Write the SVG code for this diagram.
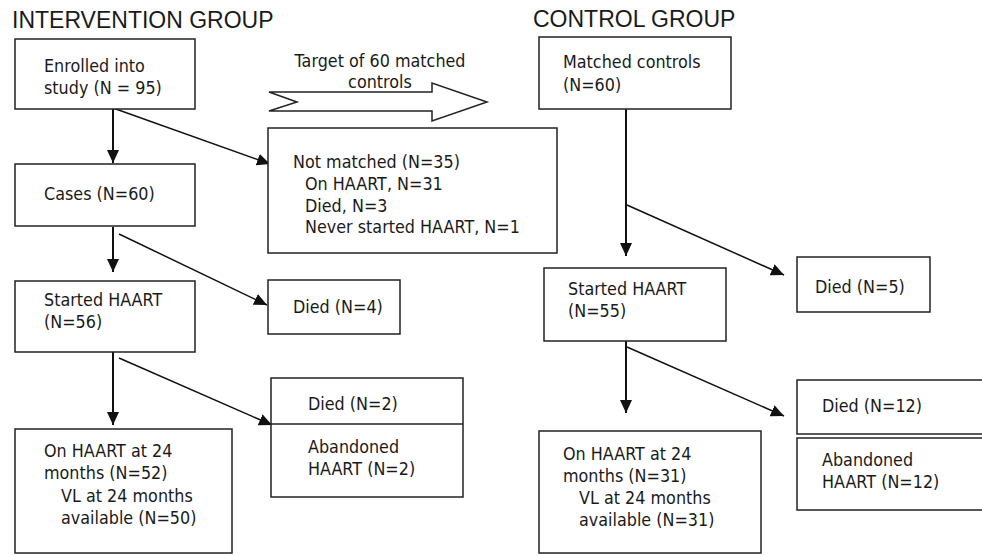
<svg xmlns="http://www.w3.org/2000/svg" width="982" height="555" viewBox="0 0 982 555">
<style>
.box{fill:#fff;stroke:#222;stroke-width:1.5}
.t{font-family:"DejaVu Sans",Verdana,sans-serif;font-size:16px;fill:#1a1a1a;transform-box:fill-box;transform-origin:0 79.7%;transform:scaleY(1.15)}
.h{font-family:"Liberation Sans",Arial,sans-serif;font-size:23px;fill:#1a1a1a}
.c{stroke:#111;fill:none}
.v{stroke-width:2}
.d{stroke-width:1.5}
</style>
<defs>
<marker id="ah" markerUnits="userSpaceOnUse" markerWidth="14" markerHeight="12" refX="13" refY="6" orient="auto">
<path d="M0,0 L13,6 L0,12 Z" fill="#111"/>
</marker>
</defs>
<rect width="982" height="555" fill="#fff"/>
<text class="h" x="12" y="28">INTERVENTION GROUP</text>
<text class="h" x="533" y="27">CONTROL GROUP</text>

<g id="connectors">
<line class="c v" x1="113" y1="109" x2="113" y2="163" marker-end="url(#ah)"/>
<line class="c d" x1="113" y1="108" x2="270" y2="164" marker-end="url(#ah)"/>
<line class="c v" x1="113" y1="227" x2="113" y2="272" marker-end="url(#ah)"/>
<line class="c d" x1="119" y1="234" x2="267" y2="305" marker-end="url(#ah)"/>
<line class="c v" x1="113" y1="343" x2="113" y2="425" marker-end="url(#ah)"/>
<line class="c d" x1="119" y1="358" x2="272" y2="425" marker-end="url(#ah)"/>
<line class="c v" x1="626" y1="109" x2="626" y2="256" marker-end="url(#ah)"/>
<line class="c d" x1="627" y1="205" x2="784" y2="275" marker-end="url(#ah)"/>
<line class="c v" x1="626" y1="333" x2="626" y2="413" marker-end="url(#ah)"/>
<line class="c d" x1="627" y1="347" x2="784" y2="416" marker-end="url(#ah)"/>
</g>

<g id="target-arrow">
<path d="M269,92 L432,92 L432,83 L487,102 L432,121 L432,111 L269,111 L297,102 Z" fill="#fff" stroke="#222" stroke-width="1.5"/>
<text class="t" x="380" y="67" text-anchor="middle">Target of 60 matched</text>
<text class="t" x="380" y="88" text-anchor="middle">controls</text>
</g>

<g id="enrolled">
<rect class="box" x="15" y="39" width="180" height="70"/>
<text class="t" x="44" y="72">Enrolled into</text>
<text class="t" x="44" y="94">study (N = 95)</text>
</g>

<g id="not-matched">
<rect class="box" x="268" y="128" width="289" height="125"/>
<text class="t" x="293" y="168">Not matched (N=35)</text>
<text class="t" x="305" y="190">On HAART, N=31</text>
<text class="t" x="305" y="212">Died, N=3</text>
<text class="t" x="305" y="233">Never started HAART, N=1</text>
</g>

<g id="cases">
<rect class="box" x="15" y="164" width="180" height="62"/>
<text class="t" x="44" y="200">Cases (N=60)</text>
</g>

<g id="started-int">
<rect class="box" x="15" y="281" width="180" height="71"/>
<text class="t" x="44" y="306">Started HAART</text>
<text class="t" x="44" y="328">(N=56)</text>
</g>

<g id="died4">
<rect class="box" x="268" y="280" width="132" height="54"/>
<text class="t" x="293" y="313">Died (N=4)</text>
</g>

<g id="died2-abandoned2">
<rect class="box" x="271" y="378" width="192" height="119"/>
<line x1="271" y1="424" x2="463" y2="424" stroke="#222" stroke-width="1.5"/>
<text class="t" x="308" y="410">Died (N=2)</text>
<text class="t" x="308" y="453">Abandoned</text>
<text class="t" x="308" y="475">HAART (N=2)</text>
</g>

<g id="onhaart-int">
<rect class="box" x="15" y="429" width="217" height="124"/>
<text class="t" x="44" y="457">On HAART at 24</text>
<text class="t" x="44" y="479">months (N=52)</text>
<text class="t" x="61" y="502">VL at 24 months</text>
<text class="t" x="61" y="524">available (N=50)</text>
</g>

<g id="matched">
<rect class="box" x="539" y="37" width="192" height="72"/>
<text class="t" x="563" y="68">Matched controls</text>
<text class="t" x="563" y="91">(N=60)</text>
</g>

<g id="started-ctl">
<rect class="box" x="544" y="268" width="182" height="73"/>
<text class="t" x="568" y="295">Started HAART</text>
<text class="t" x="568" y="317">(N=55)</text>
</g>

<g id="died5">
<rect class="box" x="797" y="257" width="133" height="55"/>
<text class="t" x="815" y="293">Died (N=5)</text>
</g>

<g id="died12">
<rect class="box" x="797" y="380" width="195" height="54"/>
<text class="t" x="822" y="412">Died (N=12)</text>
</g>

<g id="abandoned12">
<rect class="box" x="797" y="438" width="195" height="72"/>
<text class="t" x="822" y="466">Abandoned</text>
<text class="t" x="822" y="488">HAART (N=12)</text>
</g>

<g id="onhaart-ctl">
<rect class="box" x="539" y="431" width="222" height="122"/>
<text class="t" x="563" y="460">On HAART at 24</text>
<text class="t" x="563" y="482">months (N=31)</text>
<text class="t" x="579" y="504">VL at 24 months</text>
<text class="t" x="579" y="526">available (N=31)</text>
</g>
</svg>
